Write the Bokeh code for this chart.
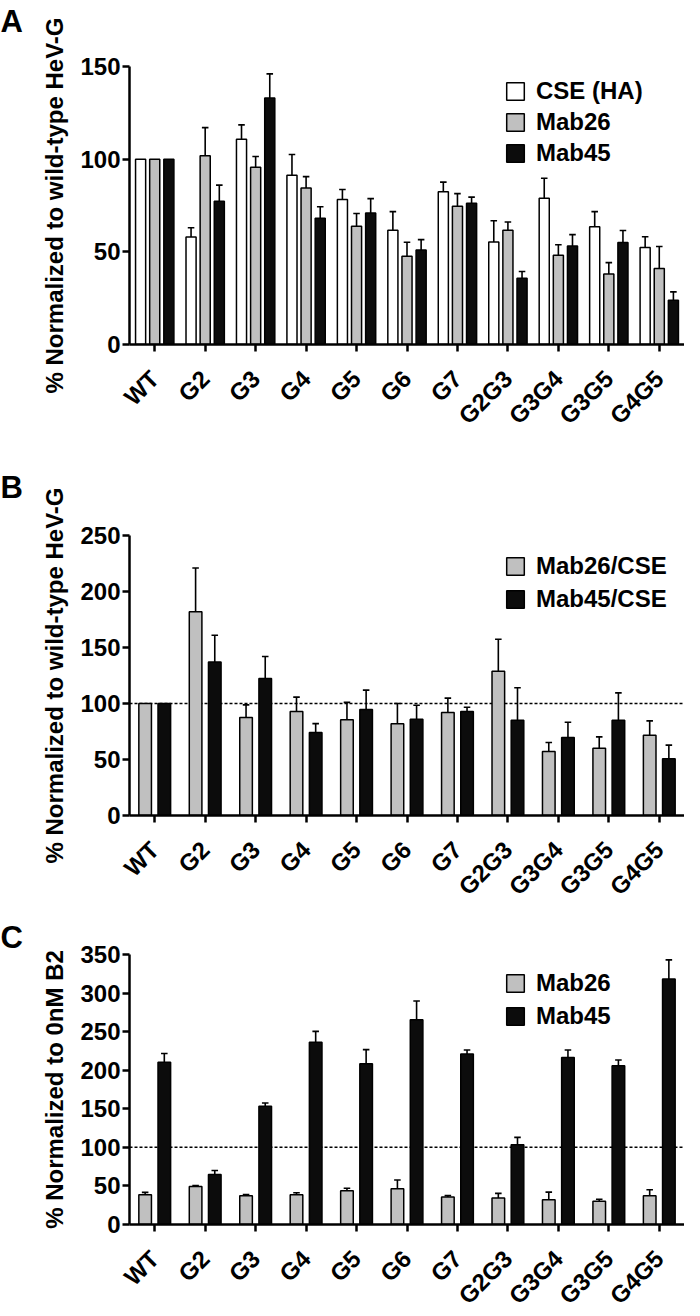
import math
import numpy as np
from bokeh.plotting import figure
from bokeh.models import (ColumnDataSource, FactorRange, Range1d, FixedTicker, Span,
                          Legend, LegendItem, Title)
from bokeh.transform import dodge
from bokeh.layouts import column
from bokeh.embed import file_html
from bokeh.resources import INLINE

categories = ["WT", "G2", "G3", "G4", "G5", "G6", "G7", "G2G3", "G3G4", "G3G5", "G4G5"]

# Panel A: % normalized to wild-type HeV-G
a_cse = [100, 58.0, 110.7, 91.3, 78.2, 61.6, 82.4, 55.3, 78.9, 63.6, 52.3]
a_cse_err = [0, 5.0, 7.8, 11.2, 5.4, 10.1, 5.2, 11.5, 10.8, 8.1, 5.8]
a_mab26 = [100, 101.8, 95.6, 84.5, 63.8, 47.6, 74.6, 61.6, 48.2, 38.1, 41.0]
a_mab26_err = [0, 15.2, 5.8, 6.1, 6.9, 7.6, 6.8, 4.5, 5.6, 6.1, 11.9]
a_mab45 = [100, 77.3, 133.0, 68.1, 70.9, 51.0, 76.2, 35.8, 53.2, 55.0, 23.9]
a_mab45_err = [0, 8.7, 13.0, 6.2, 7.8, 5.6, 3.3, 3.6, 6.1, 6.5, 4.5]

# Panel B: ratio to CSE
b_mab26 = [100, 182.0, 87.5, 92.9, 85.4, 82.0, 92.0, 128.9, 57.1, 60.1, 71.7]
b_mab26_err = [0, 39.0, 11.3, 12.8, 15.6, 18.0, 12.8, 28.5, 8.1, 10.1, 12.8]
b_mab45 = [100, 137.0, 122.3, 74.0, 94.6, 86.0, 92.9, 85.1, 69.6, 85.1, 50.6]
b_mab45_err = [0, 24.0, 19.7, 8.0, 17.3, 12.5, 3.8, 28.9, 13.7, 24.4, 12.2]

# Panel C: % normalized to 0nM B2
c_mab26 = [38.7, 49.2, 37.4, 38.7, 43.7, 46.2, 35.8, 34.5, 32.0, 30.2, 37.4]
c_mab26_err = [2.9, 1.2, 1.3, 2.5, 3.3, 11.4, 1.6, 5.8, 10.0, 2.5, 7.6]
c_mab45 = [210.4, 64.7, 153.3, 236.4, 208.3, 265.4, 220.9, 103.3, 216.6, 205.8, 318.3]
c_mab45_err = [11.3, 5.3, 4.2, 13.9, 18.4, 24.3, 5.4, 9.7, 9.7, 7.5, 24.7]

FONT = "Liberation Sans"
WHITE, GRAY, BLACK = "#ffffff", "#c0c0c0", "#0c0c0c"


def make_panel(series, letter, ylabel, ymax, frame_h, top, bottom, bar_w, offsets,
               legend_top, legend_spacing, letter_gap, dashed):
    p = figure(x_range=FactorRange(*categories), y_range=Range1d(0, ymax),
               frame_width=555, frame_height=frame_h,
               min_border_left=129, min_border_right=0,
               min_border_top=top, min_border_bottom=bottom,
               toolbar_location=None, output_backend="svg")
    p.outline_line_color = None
    p.xgrid.grid_line_color = None
    p.ygrid.grid_line_color = None

    if dashed:
        p.add_layout(Span(location=100, dimension="width", line_color="black",
                          line_dash="3 2", line_width=1.5, level="underlay"))

    items = []
    for (name, vals, errs, color), off in zip(series, offsets):
        v = np.array(vals, dtype=float)
        e = np.array(errs, dtype=float)
        hi = np.where(e > 0, v + e, np.nan)
        src = ColumnDataSource(dict(cat=categories, v=v, hi=hi))
        xs = dodge("cat", off, range=p.x_range)
        p.segment(x0=xs, y0="v", x1=xs, y1="hi", source=src,
                  line_color="black", line_width=1.6)
        p.segment(x0=dodge("cat", off - 0.065, range=p.x_range), y0="hi",
                  x1=dodge("cat", off + 0.065, range=p.x_range), y1="hi",
                  source=src, line_color="black", line_width=1.6)
        r = p.vbar(x=xs, top="v", width=bar_w, source=src, fill_color=color,
                   line_color="black", line_width=1.5)
        items.append(LegendItem(label=name, renderers=[r]))

    n = len(items)
    leg_h = 27 * n + legend_spacing * (n - 1)
    legend = Legend(items=items, location=(375, frame_h - legend_top - leg_h),
                    glyph_width=22, glyph_height=22, label_height=22,
                    label_standoff=10, spacing=legend_spacing, padding=0, margin=0,
                    border_line_color=None, background_fill_alpha=0,
                    label_text_font=FONT, label_text_font_size="24px",
                    label_text_font_style="bold", label_text_color="black")
    p.add_layout(legend)

    p.yaxis.ticker = FixedTicker(ticks=list(range(0, ymax + 1, 50)))
    for ax in (p.xaxis, p.yaxis):
        ax.axis_line_width = 2.5
        ax.axis_line_color = "black"
        ax.major_tick_line_width = 2.5
        ax.major_tick_line_color = "black"
        ax.major_tick_in = 0
        ax.major_tick_out = 7
        ax.minor_tick_line_color = None
        ax.major_label_text_font = FONT
        ax.major_label_text_font_size = "24px"
        ax.major_label_text_font_style = "bold"
        ax.major_label_text_color = "black"
    p.yaxis.major_label_standoff = 2
    p.xaxis.major_label_standoff = 23
    p.xaxis.major_label_orientation = math.pi / 4
    p.yaxis.axis_label = ylabel
    p.yaxis.axis_label_text_font = FONT
    p.yaxis.axis_label_text_font_size = "24px"
    p.yaxis.axis_label_text_font_style = "bold"
    p.yaxis.axis_label_text_color = "black"
    p.yaxis.axis_label_standoff = 9

    # panel letter; a white (invisible) spacer title nearest the frame lifts it
    if letter_gap > 0:
        p.add_layout(Title(text=".", text_font_size="1px", text_color="white",
                           standoff=letter_gap), "above")
    p.add_layout(Title(text=letter, align="left", offset=-129, standoff=0,
                       text_font=FONT, text_font_size="31px",
                       text_font_style="bold", text_color="black"), "above")
    return p


pa = make_panel([("CSE (HA)", a_cse, a_cse_err, WHITE),
                 ("Mab26", a_mab26, a_mab26_err, GRAY),
                 ("Mab45", a_mab45, a_mab45_err, BLACK)],
                "A", "% Normalized to wild-type HeV-G", 150, 278, 66, 90,
                0.2, [-0.28, 0.0, 0.28], 14, 3, 25, False)

pb = make_panel([("Mab26/CSE", b_mab26, b_mab26_err, GRAY),
                 ("Mab45/CSE", b_mab45, b_mab45_err, BLACK)],
                "B", "% Normalized to wild-type HeV-G", 250, 280, 94, 90,
                0.25, [-0.19, 0.19], 19, 5, 28, True)

pc = make_panel([("Mab26", c_mab26, c_mab26_err, GRAY),
                 ("Mab45", c_mab45, c_mab45_err, BLACK)],
                "C", "% Normalized to 0nM B2", 350, 270, 42, 90,
                0.25, [-0.19, 0.19], 17, 5, 0, True)

layout = column(pa, pb, pc, spacing=0)
open("out.html", "w").write(file_html(layout, INLINE))
